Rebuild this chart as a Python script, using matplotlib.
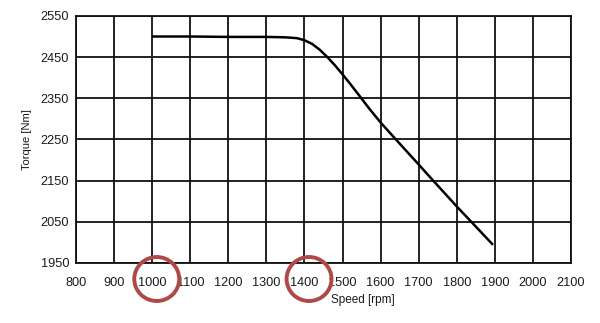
import matplotlib.pyplot as plt
from matplotlib import font_manager
from matplotlib.patches import Ellipse
from matplotlib.transforms import blended_transform_factory

# pick the regular (not narrow) Liberation Sans
reg = [f for f in font_manager.fontManager.ttflist
       if f.fname.endswith('LiberationSans-Regular.ttf')]
if reg:
    plt.rcParams['font.family'] = [reg[0].name, 'DejaVu Sans']
    plt.rcParams['font.stretch'] = 'normal'

# torque curve
speed = [1000, 1100, 1200, 1300, 1350, 1380, 1400, 1420, 1440, 1460, 1480,
         1500, 1520, 1546, 1570, 1600, 1638, 1700, 1735, 1800, 1840, 1895]
torque = [2500, 2500, 2499, 2499, 2498, 2496, 2491, 2482, 2468, 2450, 2430,
          2408, 2385, 2354, 2325, 2291, 2252, 2189, 2153, 2087, 2048, 1994]

x_ticks = list(range(800, 2101, 100))
y_ticks = list(range(1950, 2551, 100))
circled = [1000, 1400]

fig = plt.figure(figsize=(6, 3.23), dpi=100)
ax = fig.add_axes([0.1267, 0.186, 0.825, 0.7647])

ax.plot(speed, torque, color='black', lw=1.8, zorder=3,
        solid_joinstyle='round', solid_capstyle='butt')

ax.set_xlim(800, 2100)
ax.set_ylim(1950, 2550)
ax.set_xticks(x_ticks)
ax.set_yticks(y_ticks)
ax.grid(True, color='#111111', lw=1.3)
ax.tick_params(length=0, labelsize=9.2, labelcolor='#1a1a1a')
ax.tick_params(axis='x', pad=10)
ax.tick_params(axis='y', pad=5)
for s in ax.spines.values():
    s.set_color('#111111')
    s.set_linewidth(1.3)

ax.set_xlabel('Speed [rpm]', fontsize=8.5, color='#1a1a1a')
ax.xaxis.set_label_coords(0.58, -0.125)
ax.set_ylabel('Torque [Nm]', fontsize=8, color='#1a1a1a', labelpad=6)

tr = blended_transform_factory(ax.transData, fig.transFigure)
for v in circled:
    fig.patches.append(Ellipse((v + 12, 1 - 279 / 323), 118, 44 / 323,
                               transform=tr, fill=False, edgecolor='#b04848',
                               lw=2.8, clip_on=False))

fig.savefig('out.png', dpi=100)
